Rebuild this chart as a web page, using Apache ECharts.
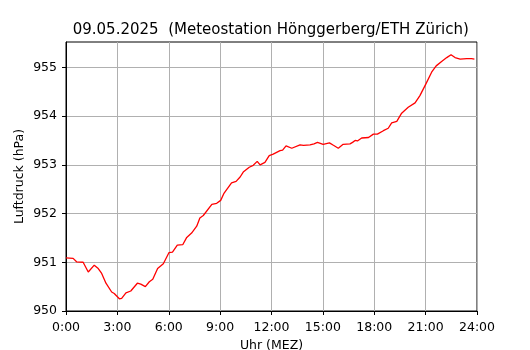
<!DOCTYPE html>
<html>
<head>
<meta charset="utf-8">
<script src="https://cdn.jsdelivr.net/npm/echarts@6/dist/echarts.min.js"></script>
<style>html,body{margin:0;padding:0;background:#fff}#c{width:530px;height:350px}</style>
</head>
<body>
<div id="c"></div>
<script>
var titleText = '09.05.2025  (Meteostation Hönggerberg/ETH Zürich)';
var xName = 'Uhr (MEZ)';
var yName = 'Luftdruck (hPa)';
// time in minutes after midnight
var minutes = [0,25,37,60,78,99,113,125,140,160,169,187,195,210,227,250,262,278,292,304,321,341,361,373,390,409,423,440,458,469,481,511,528,542,554,580,596,610,621,642,656,670,680,697,712,726,750,759,771,791,820,832,855,869,881,901,923,937,954,971,995,1004,1013,1021,1036,1060,1077,1091,1112,1129,1141,1159,1176,1199,1223,1240,1261,1281,1297,1316,1334,1349,1363,1381,1404,1421,1431];
var pressure = [951.09,951.08,951.01,951.00,950.80,950.94,950.87,950.77,950.57,950.39,950.36,950.25,950.26,950.37,950.41,950.57,950.55,950.50,950.60,950.65,950.87,950.97,951.20,951.21,951.35,951.36,951.51,951.60,951.74,951.91,951.96,952.19,952.21,952.27,952.42,952.63,952.66,952.75,952.85,952.95,952.99,953.07,953.00,953.05,953.19,953.22,953.29,953.30,953.39,953.34,953.41,953.40,953.41,953.43,953.46,953.42,953.45,953.40,953.34,953.42,953.43,953.46,953.50,953.49,953.55,953.56,953.63,953.63,953.70,953.75,953.86,953.89,954.06,954.18,954.27,954.42,954.66,954.90,955.03,955.12,955.20,955.26,955.20,955.17,955.18,955.18,955.17];
var xTicks = [0,180,360,540,720,900,1080,1260,1440];
var xTickLabels = ['0:00','3:00','6:00','9:00','12:00','15:00','18:00','21:00','24:00'];
var yTicks = [950,951,952,953,954,955];

var data = minutes.map(function(m,i){return [m, pressure[i]];});
var font = 'DejaVu Sans';
var chart = echarts.init(document.getElementById('c'), null, {renderer:'canvas'});
chart.setOption({
  animation:false,
  backgroundColor:'#fff',
  textStyle:{fontFamily:font},
  graphic:[{type:'text',x:270.8,y:30.5,silent:true,
    style:{text:titleText,fontFamily:font,fontSize:15,fill:'#000',align:'center',verticalAlign:'middle'}}],
  grid:{left:66,right:53,top:42,bottom:39,containLabel:false,outerBoundsMode:'none',
    show:true,borderColor:'#000',borderWidth:1,backgroundColor:'transparent'},
  xAxis:{type:'value',min:0,max:1440,interval:180,
    name:xName,nameLocation:'middle',nameGap:28,nameMoveOverlap:false,
    nameTextStyle:{fontFamily:font,fontSize:12.5,color:'#000'},
    axisLine:{show:true,lineStyle:{color:'#000',width:1}},
    axisTick:{show:true,length:4,lineStyle:{color:'#000'}},
    axisLabel:{margin:10,fontFamily:font,fontSize:12.5,color:'#000',
      formatter:function(v){var i=xTicks.indexOf(v);return i>=0?xTickLabels[i]:'';}},
    splitLine:{show:true,lineStyle:{color:'#b0b0b0',width:1}}},
  yAxis:{type:'value',min:950,max:955.52,interval:1,
    name:yName,nameLocation:'middle',nameGap:40,nameMoveOverlap:false,
    nameTextStyle:{fontFamily:font,fontSize:12.5,color:'#000'},
    axisLine:{show:true,lineStyle:{color:'#000',width:1}},
    axisTick:{show:true,length:4,lineStyle:{color:'#000'},customValues:yTicks},
    axisLabel:{margin:9,fontFamily:font,fontSize:12.5,color:'#000',customValues:yTicks,
      formatter:function(v){return yTicks.indexOf(v)>=0?String(v):'';}},
    splitLine:{show:true,lineStyle:{color:'#b0b0b0',width:1}}},
  series:[{type:'line',data:data,showSymbol:false,symbol:'none',
    lineStyle:{color:'#ff0000',width:1.3},itemStyle:{color:'#ff0000'}}]
});
</script>
</body>
</html>
